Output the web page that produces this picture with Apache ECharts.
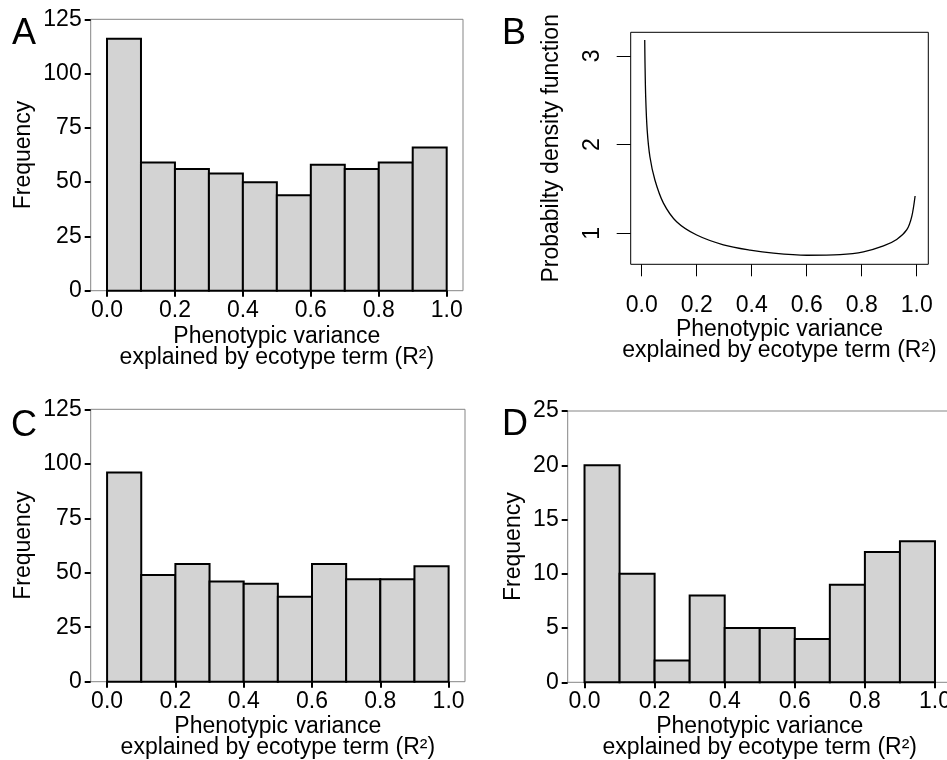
<!DOCTYPE html>
<html>
<head>
<meta charset="utf-8">
<script src="https://cdn.jsdelivr.net/npm/echarts@6/dist/echarts.min.js"></script>
<style>
  html, body { margin: 0; padding: 0; background: #fff; }
  #chart { width: 947px; height: 760px; }
</style>
</head>
<body>
<div id="chart"></div>
<script>
// histogram bins (R^2 from 0 to 1, width 0.1)
var binStarts = [0.0, 0.1, 0.2, 0.3, 0.4, 0.5, 0.6, 0.7, 0.8, 0.9];
var binWidth = 0.1;
var countsA = [116, 59, 56, 54, 50, 44, 58, 56, 59, 66];
var countsC = [96, 49, 54, 46, 45, 39, 54, 47, 47, 53];
var countsD = [20, 10, 2, 8, 5, 5, 4, 9, 12, 13];

// panel B density curve
var curveX = [0.011, 0.012, 0.0145, 0.020, 0.030, 0.048, 0.079, 0.127, 0.2, 0.297, 0.394, 0.479, 0.6, 0.721, 0.806, 0.879, 0.927, 0.964, 0.982, 0.994];
var curveY = [3.18, 2.92, 2.54, 2.16, 1.86, 1.60, 1.34, 1.13, 0.98, 0.87, 0.81, 0.775, 0.752, 0.759, 0.79, 0.857, 0.93, 1.04, 1.19, 1.42];

var xTicks = [0, 0.2, 0.4, 0.6, 0.8, 1.0];
var yTicksB = [1, 2, 3];
var panelLetters = ['A', 'B', 'C', 'D'];
var xTitle = 'Phenotypic variance\nexplained by ecotype term (R\u00b2)';

var FONT = "'Liberation Sans', Arial, sans-serif";
var FS = 23;

function histData(counts) {
    return counts.map(function (c, i) { return [binStarts[i], binStarts[i] + binWidth, c]; });
}

function renderHist(params, api) {
    var p0 = api.coord([api.value(0), api.value(2)]);
    var p1 = api.coord([api.value(1), 0]);
    return {
        type: 'rect',
        shape: { x: p0[0], y: p0[1], width: p1[0] - p0[0], height: p1[1] - p0[1] },
        style: { fill: '#d3d3d3', stroke: '#000', lineWidth: 2 }
    };
}

function histXAxis(idx, gap) {
    return {
        type: 'value', gridIndex: idx, min: -0.048, max: 1.048,
        axisLine: { show: false, onZero: false }, splitLine: { show: false },
        axisTick: { customValues: xTicks, length: 6, lineStyle: { color: '#000', width: 2 } },
        axisLabel: { customValues: xTicks, margin: 8, fontSize: FS, color: '#000', fontFamily: FONT,
            formatter: function (v) { return v.toFixed(1); } },
        name: xTitle, nameLocation: 'middle', nameGap: gap,
        nameTextStyle: { fontSize: FS, lineHeight: 21, color: '#000', fontFamily: FONT }
    };
}

function histYAxis(idx, max, interval, gap) {
    return {
        type: 'value', gridIndex: idx, min: 0, max: max, interval: interval,
        axisLine: { show: false, onZero: false }, splitLine: { show: false },
        axisTick: { show: true, length: 6, lineStyle: { color: '#000', width: 2 } },
        axisLabel: { margin: 9, fontSize: FS, color: '#000', fontFamily: FONT },
        name: 'Frequency', nameLocation: 'middle', nameGap: gap,
        nameTextStyle: { fontSize: FS, color: '#000', fontFamily: FONT }
    };
}

var chart = echarts.init(document.getElementById('chart'));
var option = {
    animation: false,
    backgroundColor: '#fff',
    title: [
        { text: panelLetters[0], left: 12, top: 16 },
        { text: panelLetters[1], left: 502, top: 16 },
        { text: panelLetters[2], left: 11, top: 408 },
        { text: panelLetters[3], left: 502, top: 407 }
    ].map(function (t) {
        t.padding = 0;
        t.textStyle = { fontSize: 36, fontWeight: 'normal', color: '#000', fontFamily: FONT };
        return t;
    }),
    grid: [
        { left: 90.7, top: 19.3, width: 372.3, height: 271.4 },
        { left: 630.7, top: 32.3, width: 297.6, height: 232, borderColor: '#000' },
        { left: 90.7, top: 409.3, width: 374.3, height: 272.4 },
        { left: 567.7, top: 411, width: 384.1, height: 271.3 }
    ].map(function (g) {
        g.show = true;
        g.borderColor = g.borderColor || '#858585';
        g.borderWidth = 1;
        g.outerBoundsMode = 'none';
        g.containLabel = false;
        return g;
    }),
    xAxis: [
        histXAxis(0, 35),
        {
            type: 'value', gridIndex: 1, min: -0.04, max: 1.042,
            axisLine: { show: false, onZero: false }, splitLine: { show: false },
            axisTick: { customValues: xTicks, length: 12, lineStyle: { color: '#000', width: 1 } },
            axisLabel: { customValues: xTicks, margin: 30, fontSize: FS, color: '#000', fontFamily: FONT,
                formatter: function (v) { return v.toFixed(1); } },
            name: xTitle, nameLocation: 'middle', nameGap: 55,
            nameTextStyle: { fontSize: FS, lineHeight: 21, color: '#000', fontFamily: FONT }
        },
        histXAxis(2, 34),
        histXAxis(3, 34)
    ],
    yAxis: [
        histYAxis(0, 125, 25, 56),
        {
            type: 'value', gridIndex: 1, min: 0.65, max: 3.266,
            axisLine: { show: false, onZero: false }, splitLine: { show: false },
            axisTick: { customValues: yTicksB, length: 14, lineStyle: { color: '#000', width: 1 } },
            axisLabel: { customValues: yTicksB, rotate: 90, margin: 27, fontSize: FS, color: '#000', fontFamily: FONT },
            name: 'Probabilty density function', nameLocation: 'middle', nameGap: 68,
            nameTextStyle: { fontSize: FS, color: '#000', fontFamily: FONT }
        },
        histYAxis(2, 125, 25, 56),
        histYAxis(3, 25, 5, 43)
    ],
    series: [
        { type: 'custom', xAxisIndex: 0, yAxisIndex: 0, renderItem: renderHist, encode: { x: [0, 1], y: 2 }, data: histData(countsA) },
        {
            type: 'line', xAxisIndex: 1, yAxisIndex: 1, showSymbol: false, smooth: 0.3,
            lineStyle: { color: '#000', width: 1.3 },
            data: curveX.map(function (x, i) { return [x, curveY[i]]; })
        },
        { type: 'custom', xAxisIndex: 2, yAxisIndex: 2, renderItem: renderHist, encode: { x: [0, 1], y: 2 }, data: histData(countsC) },
        { type: 'custom', xAxisIndex: 3, yAxisIndex: 3, renderItem: renderHist, encode: { x: [0, 1], y: 2 }, data: histData(countsD) }
    ]
};
chart.setOption(option);
</script>
</body>
</html>
